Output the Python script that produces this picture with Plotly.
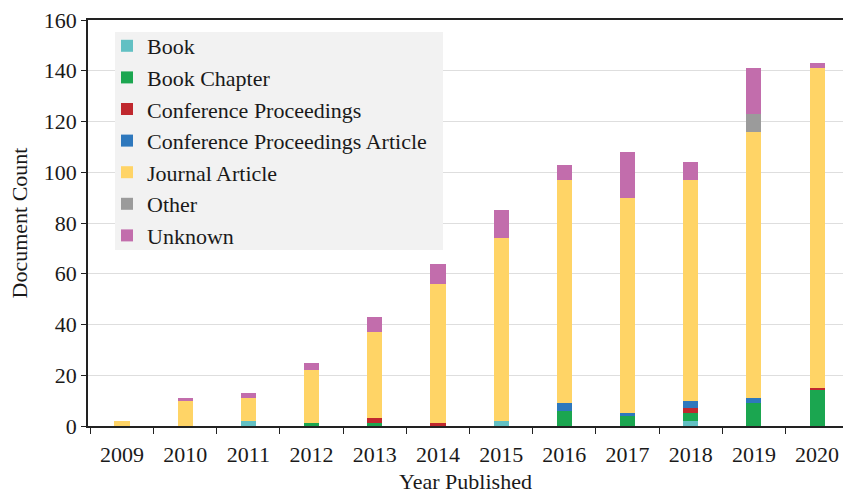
import plotly.graph_objects as go

years = ["2009", "2010", "2011", "2012", "2013", "2014", "2015", "2016", "2017", "2018", "2019", "2020"]
book = [0, 0, 2, 0, 0, 0, 2, 0, 0, 2, 0, 0]
book_chapter = [0, 0, 0, 1, 1, 0, 0, 6, 4, 3, 9, 14]
conf_proc = [0, 0, 0, 0, 2, 1, 0, 0, 0, 2, 0, 1]
conf_proc_article = [0, 0, 0, 0, 0, 0, 0, 3, 1, 3, 2, 0]
journal_article = [2, 10, 9, 21, 34, 55, 72, 88, 85, 87, 105, 126]
other = [0, 0, 0, 0, 0, 0, 0, 0, 0, 0, 7, 0]
unknown = [0, 1, 2, 3, 6, 8, 11, 6, 18, 7, 18, 2]

series = [
    ("Book", book, "#62c0c3"),
    ("Book Chapter", book_chapter, "#1ba650"),
    ("Conference Proceedings", conf_proc, "#c0282e"),
    ("Conference Proceedings Article", conf_proc_article, "#2e78bd"),
    ("Journal Article", journal_article, "#ffd466"),
    ("Other", other, "#9b9b9b"),
    ("Unknown", unknown, "#c26dac"),
]

FONT = "Liberation Serif"
W, H = 843, 494
L, R, T, B = 88, 0, 20, 494 - 426
PW, PH = W - L - R, H - T - B

def px_x(x):
    return (x - L) / PW

def px_y(y):
    return (H - B - y) / PH

fig = go.Figure()
for name, vals, color in series:
    fig.add_trace(go.Bar(x=years, y=vals, name=name, marker_color=color,
                         marker_line_width=0, legendgroup=name))

fig.add_shape(type="rect", xref="paper", yref="paper",
              x0=px_x(115), x1=px_x(443), y0=px_y(250), y1=px_y(32),
              fillcolor="#f2f2f2", line_width=0, layer="above")

fig.update_layout(
    width=W, height=H,
    margin=dict(l=L, r=R, t=T, b=B, autoexpand=False),
    barmode="stack", bargap=0.76,
    plot_bgcolor="white", paper_bgcolor="white",
    font=dict(family=FONT, size=22, color="#1a1a1a"),
    legend=dict(x=px_x(107), y=px_y(25), xanchor="left", yanchor="top",
                bgcolor="rgba(0,0,0,0)", traceorder="grouped", tracegroupgap=0,
                font=dict(family=FONT, size=22, color="#1a1a1a"),
                itemwidth=30),
    xaxis=dict(type="category", range=[-0.538, 11.41], showline=True, linecolor="#222",
               linewidth=1.5, mirror=True, ticks="outside", tickson="boundaries",
               ticklen=6, tickcolor="#222", automargin=False, ticklabelstandoff=8,
               ticklabeloverflow="allow",
               title=dict(text="Year Published", font=dict(size=22), standoff=13)),
    yaxis=dict(range=[0, 160], dtick=20, showline=True, linecolor="#222", linewidth=1.5,
               ticks="outside", ticklen=5, tickcolor="#222", showgrid=True,
               gridcolor="#dedede", gridwidth=1, zeroline=False, automargin=False,
               ticklabeloverflow="allow",
               title=dict(text="Document Count", font=dict(size=22), standoff=10)),
)

fig.write_html("out.html", config={"displayModeBar": False},
               post_script="document.body.style.margin='0';document.body.style.overflow='hidden';")
